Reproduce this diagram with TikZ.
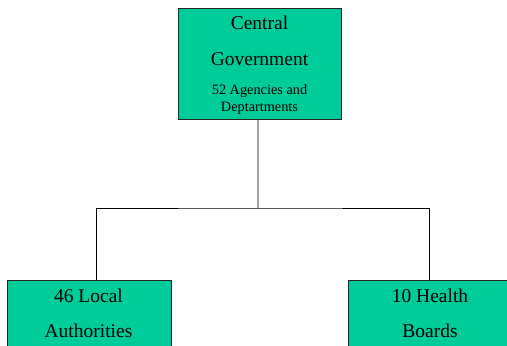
\documentclass[tikz,border=0pt]{standalone}
\usepackage{fontspec}
\setmainfont{Liberation Serif}
\definecolor{boxgreen}{RGB}{0,204,153}
\tikzset{
  orgbox/.style={draw=black!85, fill=boxgreen, line width=0.8bp, minimum width=#1, inner sep=0pt, outer sep=0pt, rectangle},
  bigtxt/.style={anchor=base, inner sep=0pt, font=\fontsize{19.5bp}{22bp}\selectfont},
  smalltxt/.style={anchor=base, inner sep=0pt, font=\fontsize{14.3bp}{16bp}\selectfont},
  conn/.style={draw=black, line width=0.8bp}
}
\begin{document}
\begin{tikzpicture}[x=1bp,y=-1bp]
\useasboundingbox (0,0) rectangle (507,345);
% boxes
\node[orgbox=163bp, minimum height=111bp] (cg) at (259.5,63.5) {};
\node[orgbox=164bp, minimum height=80bp] (la) at (89,320) {};
\node[orgbox=164bp, minimum height=80bp] (hb) at (430,320) {};
% texts
\node[bigtxt] (t1) at (259.5,29) {Central};
\node[bigtxt] (t2) at (259.5,65) {Government};
\node[smalltxt] (t3) at (259.5,94) {52 Agencies and};
\node[smalltxt] (t4) at (259.5,111) {Deptartments};
\node[bigtxt] (t5) at (88.5,302) {46 Local};
\node[bigtxt] (t6) at (88.5,337) {Authorities};
\node[bigtxt] (t7) at (430,302) {10 Health};
\node[bigtxt] (t8) at (430,337) {Boards};
% connectors
\coordinate (j) at (258,208);
\draw[conn] ([xshift=-1.5bp]cg.south) -- (j);
\draw[conn] ([xshift=7bp]la.north) |- (j) -| ([xshift=-1bp]hb.north);
\end{tikzpicture}
\end{document}
